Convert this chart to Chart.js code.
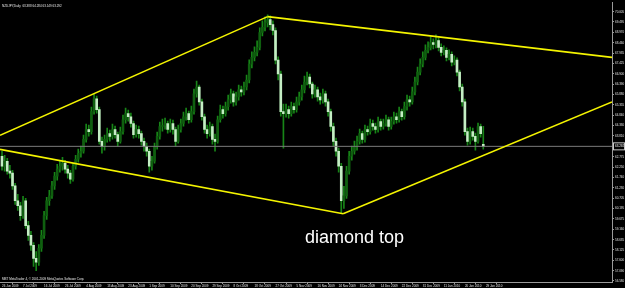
<!DOCTYPE html>
<html><head><meta charset="utf-8">
<script src="https://cdn.jsdelivr.net/npm/chart.js@4/dist/chart.umd.min.js"></script>
<style>html,body{margin:0;padding:0;background:#000;overflow:hidden}canvas{display:block}</style>
</head><body>
<canvas id="c" width="625" height="288"></canvas>
<script>
// ---- data (NZDJPY Daily) ----
const opens = [62.80,62.30,62.55,62.06,61.96,61.32,60.58,60.33,59.84,60.58,
59.34,58.85,58.36,57.71,57.52,58.21,58.85,59.84,60.58,60.82,
61.32,61.81,62.16,62.30,62.45,62.16,61.96,61.66,62.30,62.65,
62.95,63.05,63.64,64.13,64.03,65.02,65.66,65.12,63.54,63.29,
63.64,63.93,63.79,64.13,63.88,63.54,64.03,64.62,64.92,64.77,
64.43,63.88,64.13,63.93,63.54,63.29,63.05,62.30,62.55,63.29,
63.79,64.28,64.33,64.43,64.13,64.43,64.13,63.54,64.13,64.43,
64.77,64.92,64.62,65.02,65.91,66.25,65.51,64.77,64.13,63.93,
64.28,63.64,63.54,64.62,65.12,64.92,65.27,65.61,65.91,65.51,
65.76,66.11,66.01,66.25,66.60,67.39,67.73,67.98,68.23,68.97,
69.22,69.46,69.61,69.36,69.07,67.59,66.90,65.02,64.92,65.12,
64.92,65.27,65.12,65.51,65.76,66.11,66.50,66.75,66.40,65.91,
66.11,65.76,65.61,65.91,65.51,65.02,64.28,63.54,63.05,62.30,
60.58,60.82,62.06,62.80,63.05,63.29,63.54,63.93,63.64,64.13,
64.03,64.43,64.28,64.13,64.53,64.28,64.43,64.62,64.28,64.53,
64.77,64.62,65.02,64.77,65.27,65.61,65.51,66.01,66.50,66.99,
67.39,67.73,68.08,68.23,68.47,68.38,68.57,68.23,67.98,68.08,
67.73,67.88,67.49,67.59,66.99,66.25,65.51,64.03,63.54,64.03,
63.79,63.54,64.28,63.388];
const highs = [63.05,62.85,62.70,62.35,62.10,61.45,60.90,60.50,60.80,60.70,
59.55,59.05,58.50,58.05,58.40,59.10,60.05,60.75,61.10,61.55,
62.00,62.40,62.55,62.75,62.60,62.35,62.10,62.45,62.85,63.15,
63.30,63.85,64.40,64.35,65.25,65.90,65.80,65.25,63.75,63.85,
64.20,64.10,64.40,64.30,64.00,64.25,64.85,65.20,65.10,64.95,
64.55,64.35,64.30,64.05,63.70,63.45,63.15,62.80,63.45,64.00,
64.50,64.65,64.70,64.55,64.65,64.60,64.25,64.35,64.65,65.00,
65.20,65.05,65.30,66.15,66.55,66.35,65.65,64.90,64.35,64.50,
64.40,63.90,64.80,65.35,65.30,65.50,65.85,66.15,66.05,66.00,
66.35,66.30,66.50,66.85,67.60,68.00,68.25,68.55,69.20,69.55,
69.75,69.85,69.80,69.55,69.20,67.75,67.05,65.40,65.40,65.30,
65.50,65.45,65.75,66.00,66.35,66.80,67.00,66.90,66.50,66.35,
66.25,65.95,66.15,66.05,65.65,65.15,64.45,63.70,63.20,62.45,
61.30,62.30,63.05,63.30,63.55,63.80,64.15,64.05,64.35,64.30,
64.65,64.60,64.45,64.75,64.65,64.65,64.85,64.75,64.75,65.00,
64.95,65.25,65.15,65.50,65.85,65.80,66.25,66.75,67.25,67.65,
68.00,68.35,68.50,68.75,68.65,68.85,68.70,68.40,68.30,68.20,
68.10,68.00,67.80,67.70,67.10,66.40,65.65,64.20,64.25,64.20,
63.95,64.45,64.40,64.284];
const lows = [62.10,62.05,61.90,61.70,61.15,60.40,60.10,59.60,59.70,59.20,
58.60,58.10,57.30,57.10,57.35,58.05,58.70,59.65,60.35,60.70,
61.15,61.60,62.00,62.10,61.95,61.70,61.45,61.55,62.15,62.50,
62.75,62.95,63.50,63.80,63.90,64.90,64.95,63.40,62.95,63.10,
63.50,63.55,63.65,63.70,63.30,63.45,63.90,64.45,64.55,64.25,
63.70,63.75,63.70,63.35,63.05,62.80,62.00,62.10,62.45,63.15,
63.65,64.05,64.15,63.95,64.00,63.90,63.30,63.45,64.00,64.30,
64.60,64.45,64.50,64.90,65.75,65.35,64.60,63.95,63.70,63.80,
63.40,63.05,63.45,64.50,64.70,64.80,65.10,65.45,65.30,65.35,
65.60,65.80,65.85,66.10,66.45,67.20,67.55,67.80,68.10,68.80,
69.05,69.25,69.10,68.85,67.40,66.60,64.80,63.20,64.75,64.70,
64.80,64.95,65.00,65.35,65.60,65.95,66.35,66.20,65.70,65.75,
65.55,65.40,65.45,65.30,64.80,64.05,63.30,62.80,62.00,59.95,
60.20,60.70,61.90,62.60,62.90,63.10,63.40,63.45,63.50,63.85,
63.90,64.10,63.95,64.00,64.10,64.15,64.30,64.10,64.15,64.40,
64.45,64.50,64.60,64.65,65.10,65.30,65.40,65.85,66.35,66.85,
67.25,67.60,67.95,68.10,68.15,68.20,68.05,67.80,67.85,67.55,
67.60,67.30,67.35,66.80,66.05,65.30,63.85,63.35,63.40,63.60,
63.10,63.45,63.75,63.149];
const closes = [62.30,62.55,62.06,61.96,61.32,60.58,60.33,59.84,60.58,59.34,
58.85,58.36,57.71,57.52,58.21,58.85,59.84,60.58,60.82,61.32,
61.81,62.16,62.30,62.45,62.16,61.96,61.66,62.30,62.65,62.95,
63.05,63.64,64.13,64.03,65.02,65.66,65.12,63.54,63.29,63.64,
63.93,63.79,64.13,63.88,63.54,64.03,64.62,64.92,64.77,64.43,
63.88,64.13,63.93,63.54,63.29,63.05,62.30,62.55,63.29,63.79,
64.28,64.33,64.43,64.13,64.43,64.13,63.54,64.13,64.43,64.77,
64.92,64.62,65.02,65.91,66.25,65.51,64.77,64.13,63.93,64.28,
63.64,63.54,64.62,65.12,64.92,65.27,65.61,65.91,65.51,65.76,
66.11,66.01,66.25,66.60,67.39,67.73,67.98,68.23,68.97,69.22,
69.46,69.61,69.36,69.07,67.59,66.90,65.02,64.92,65.12,64.92,
65.27,65.12,65.51,65.76,66.11,66.50,66.75,66.40,65.91,66.11,
65.76,65.61,65.91,65.51,65.02,64.28,63.54,63.05,62.30,60.58,
60.82,62.06,62.80,63.05,63.29,63.54,63.93,63.64,64.13,64.03,
64.43,64.28,64.13,64.53,64.28,64.43,64.62,64.28,64.53,64.77,
64.62,65.02,64.77,65.27,65.61,65.51,66.01,66.50,66.99,67.39,
67.73,68.08,68.23,68.47,68.38,68.57,68.23,67.98,68.08,67.73,
67.88,67.49,67.59,66.99,66.25,65.51,64.03,63.54,64.03,63.79,
63.54,64.28,63.93,63.292];

const dateTickBars = [0,8,16,24,32,40,48,56,64,72,80,88,96,104,112,120,128,136,144,152,160,168,176,184];
const dateLabels = ["26 Jun 2009","7 Jul 2009","16 Jul 2009","26 Jul 2009","4 Aug 2009","13 Aug 2009",
"23 Aug 2009","1 Sep 2009","10 Sep 2009","20 Sep 2009","29 Sep 2009","8 Oct 2009","18 Oct 2009",
"27 Oct 2009","5 Nov 2009","16 Nov 2009","24 Nov 2009","3 Dec 2009","14 Dec 2009","22 Dec 2009",
"31 Dec 2009","11 Jan 2010","20 Jan 2010","29 Jan 2010"];
const priceTicks = [70.005,69.495,68.970,68.460,67.935,67.425,66.900,66.390,65.880,65.355,64.840,64.330,63.810,
62.775,62.250,61.740,61.230,60.705,60.195,59.675,59.160,58.635,58.125,57.600,57.090,56.580];
const priceTickLabels = ["70.005","69.495","68.970","68.460","67.935","67.425","66.900","66.390","65.880","65.355","64.840","64.330","63.810",
"62.775","62.250","61.740","61.230","60.705","60.195","59.675","59.160","58.635","58.125","57.600","57.090","56.580"];
const bidPrice = 63.292;
const headerText = "NZDJPY,Daily  63.388 64.284 63.149 63.292";
const copyrightText = "MBT MetaTrader 4, \u00A9 2001-2009 MetaQuotes Software Corp.";
const noteText = "diamond top";
// trendlines (bar index, price)
const upperLeftLine  = [{x:-0.76,y:63.84},{x:101,y:69.76}];
const upperRightLine = [{x:101,y:69.76},{x:231.94,y:67.73}];
const lowerLeftLine  = [{x:-0.76,y:63.14},{x:129.7,y:59.93}];
const lowerRightLine = [{x:129.7,y:59.93},{x:231.94,y:65.51}];
const xMin = -0.76, xMax = 231.94, yMin = 56.529, yMax = 70.449;

// ---- chart ----
const GREEN = '#178517';
const wickData = highs.map((h,i)=>({x:i,y:[lows[i],h]}));
const bodyData = opens.map((o,i)=>({x:i,y:[Math.min(o,closes[i]),Math.max(o,closes[i])]}));
const line = (d,c,w)=>({type:'line',data:d,borderColor:c,borderWidth:w,pointRadius:0,fill:false,tension:0,order:0});

const textPlugin = {
  id:'texts',
  afterDraw(chart){
    const ctx = chart.ctx, ca = chart.chartArea, ys = chart.scales.y;
    ctx.save();
    ctx.fillStyle = '#e8e8e8';
    ctx.textBaseline = 'top';
    ctx.font = '3px "Liberation Sans"';
    ctx.fillText(headerText, ca.left+2, ca.top+2);
    ctx.textBaseline = 'bottom';
    ctx.fillText(copyrightText, ca.left+2, ca.bottom-1);
    ctx.fillStyle = '#ffffff';
    ctx.font = '18px "Liberation Sans"';
    ctx.textBaseline = 'alphabetic';
    ctx.fillText(noteText, ca.left+305, ca.top+240);
    // bid label
    const by = ys.getPixelForValue(bidPrice);
    ctx.fillStyle = '#000';
    ctx.fillRect(ca.right+1, by-3.5, 12, 7);
    ctx.strokeStyle = '#c8c8c8'; ctx.lineWidth = 1;
    ctx.strokeRect(ca.right+1.5, by-3.5, 11, 7);
    ctx.fillStyle = '#ffffff';
    ctx.font = '3px "Liberation Sans"';
    ctx.textBaseline = 'middle';
    ctx.fillText(bidPrice.toFixed(3), ca.right+3, by);
    ctx.restore();
  }
};

new Chart(document.getElementById('c'), {
  type:'bar',
  data:{datasets:[
    line(upperLeftLine,'#f4f400',1.6),
    line(upperRightLine,'#f4f400',1.6),
    line(lowerLeftLine,'#f4f400',1.6),
    line(lowerRightLine,'#f4f400',1.6),
    line([{x:xMin,y:bidPrice},{x:xMax,y:bidPrice}],'#7a7a7a',1),
    {type:'bar',data:bodyData,grouped:false,barThickness:2,minBarLength:1,order:1,
     backgroundColor:(c)=> (c.dataIndex!==undefined && closes[c.dataIndex] < opens[c.dataIndex]) ? '#c4eec4' : '#0f5f0f',
     borderWidth:0},
    {type:'bar',data:wickData,grouped:false,barThickness:1,order:2,backgroundColor:GREEN,borderWidth:0}
  ]},
  options:{
    responsive:false, animation:false, devicePixelRatio:1,
    layout:{padding:0},
    plugins:{legend:{display:false},tooltip:{enabled:false}},
    scales:{
      x:{type:'linear',min:xMin,max:xMax,offset:false,
         afterBuildTicks:s=>{s.ticks=dateTickBars.map(v=>({value:v}));},
         afterFit:s=>{s.height=6;},
         ticks:{callback:v=>dateLabels[dateTickBars.indexOf(v)],align:'start',maxRotation:0,minRotation:0,autoSkip:false,
                font:{size:3,family:'Liberation Sans'},color:'#e0e0e0',padding:0},
         grid:{drawOnChartArea:false,drawTicks:true,tickLength:2,color:'#9a9a9a'},
         border:{color:'#9a9a9a',width:1}},
      y:{type:'linear',position:'right',min:yMin,max:yMax,
         afterBuildTicks:s=>{s.ticks=priceTicks.map(v=>({value:v}));},
         afterFit:s=>{s.width=13;},
         ticks:{callback:v=>priceTickLabels[priceTicks.indexOf(v)],autoSkip:false,
                font:{size:3,family:'Liberation Sans'},color:'#e0e0e0',padding:1},
         grid:{drawOnChartArea:false,drawTicks:true,tickLength:2,color:'#9a9a9a'},
         border:{color:'#9a9a9a',width:1}}
    }
  },
  plugins:[textPlugin]
});
</script>
</body></html>
